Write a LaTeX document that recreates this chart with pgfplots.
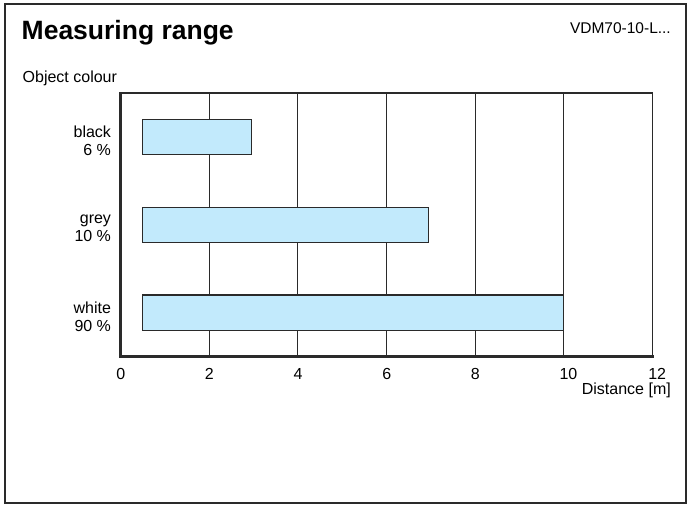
\documentclass[border=0pt]{standalone}
\usepackage{pgfplots}
\pgfplotsset{compat=1.18}
\usepackage{fontspec}
\setmainfont{Liberation Sans}
\definecolor{barfill}{HTML}{C2EAFC}
\definecolor{ink}{HTML}{2A2A2A}
\begin{document}
\begin{tikzpicture}
\path[use as bounding box] (0bp,0bp) rectangle (689bp,507bp);
\fill[white] (0bp,0bp) rectangle (689bp,507bp);
\draw[ink, line width=1.6bp] (5bp,4bp) rectangle (686bp,503bp);
\node[anchor=base west, inner sep=0, font=\fontsize{26.5bp}{30bp}\selectfont\bfseries] at (21.5bp,467.7bp) {Measuring range};
\node[anchor=base east, inner sep=0, font=\fontsize{15.5bp}{18bp}\selectfont] at (671bp,473.7bp) {VDM70-10-L...};
\node[anchor=base west, inner sep=0, font=\fontsize{16bp}{18bp}\selectfont] at (22.5bp,424.3bp) {Object colour};
\begin{axis}[
  name=ax,
  at={(120.5bp,150.5bp)}, anchor=south west,
  scale only axis, width=532bp, height=263.5bp,
  xmin=0, xmax=12, ymin=-0.5, ymax=2.5,
  xtick={0,2,...,12},
  xticklabels={0,2,4,6,8,10,12},
  ytick={0,1,2},
  yticklabels={white\\90 \%\hspace{3.5bp}, grey\\10 \%\hspace{3.5bp}, black\\6 \%\hspace{3.5bp}},
  major tick length=0pt,
  xmajorgrids, major grid style={ink, line width=1.2bp},
  axis line style={ink, line width=1.2bp},
  tick label style={font=\fontsize{16bp}{18bp}\selectfont},
  xticklabel style={anchor=north west, inner sep=0pt, xshift=-4.45bp, yshift=-11.7bp},
  yticklabel style={align=right, anchor=east, xshift=-6bp, yshift=-4bp},
  xbar stacked, bar width=0.4,
]
\addplot[draw=none, fill=none] coordinates {(0.5,0) (0.5,1) (0.5,2)};
\addplot[draw=ink, fill=barfill, line width=1.2bp] coordinates {(9.5,0) (6.45,1) (2.45,2)};
\end{axis}
\draw[ink, line width=2.8bp, line cap=rect] (ax.north west) -- (ax.south west) -- (ax.south east);
\node[anchor=base east, inner sep=0, font=\fontsize{16bp}{18bp}\selectfont] at (671bp,112.7bp) {Distance [m]};
\end{tikzpicture}
\end{document}
